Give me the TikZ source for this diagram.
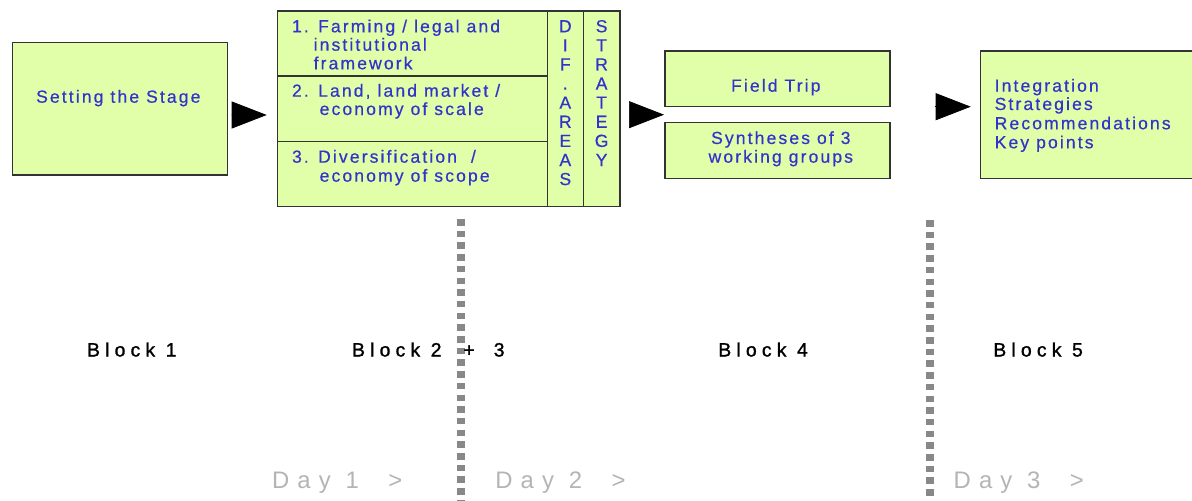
\documentclass[tikz,border=0pt]{standalone}
\usepackage{fontspec}
\setmainfont{Liberation Sans}
\newfontfamily\boxfont[LetterSpace=12, FakeBold=0.5]{Liberation Sans}
\newfontfamily\blockfont[LetterSpace=27, FakeBold=1.3]{Liberation Sans}
\newfontfamily\dayfont[LetterSpace=34]{Liberation Sans}
\usepackage{xcolor}
\usetikzlibrary{arrows.meta, positioning}

\definecolor{boxgreen}{RGB}{224,255,168}
\definecolor{boxblue}{RGB}{51,51,204}
\definecolor{daygray}{RGB}{180,180,180}
\definecolor{sepgray}{RGB}{136,136,136}

\begin{document}
\begin{tikzpicture}[
    x=0.02cm, y=-0.02cm,
    box/.style={rectangle, draw=black!80, line width=0.75pt, fill=boxgreen, inner sep=0pt, outer sep=0pt},
    txt/.style={inner sep=0pt, text=boxblue, font=\boxfont\fontsize{10}{12}\selectfont},
    blocklabel/.style={inner sep=0pt, anchor=base west, font=\blockfont\fontsize{11}{13}\selectfont},
    daylabel/.style={inner sep=0pt, anchor=base west, text=daygray, font=\dayfont\fontsize{13.6}{16}\selectfont},
    bigarrow/.style={-{Triangle[length=0.7cm, width=0.54cm]}, line width=0.4pt},
    daysep/.style={draw=sepgray, line width=4.55pt, dash pattern=on 3.7pt off 2.96pt}
]
\useasboundingbox (0,0) rectangle (1192,500);

% block 1
\node[box, minimum width=4.3cm, minimum height=2.646cm] (stage) at (119.8,108.9) {};
\node[txt, anchor=base] (stagetxt) at (118.3,102.7) {Setting the Stage};

% block 2 + 3: three topics, then the two side columns
\node[box, minimum width=5.4cm, minimum height=1.3cm, anchor=north west] (farming) at (277.3,11) {};
\node[box, minimum width=5.4cm, minimum height=1.314cm, below=0pt of farming] (landmkt) {};
\node[box, minimum width=5.4cm, minimum height=1.3cm, below=0pt of landmkt] (divers) {};
\node[box, minimum width=0.72cm, minimum height=3.914cm, anchor=north west] (areas) at (farming.north east) {};
\node[box, minimum width=0.734cm, minimum height=3.914cm, anchor=north west] (strategy) at (areas.north east) {};

\node[txt, anchor=base west] (farm1) at (291.7,32.3) {1. Farming / legal and};
\node[txt, anchor=base west] (farm2) at (313.3,50.7) {institutional};
\node[txt, anchor=base west] (farm3) at (313.3,69.3) {framework};
\node[txt, anchor=base west] (land1) at (291.7,96.7) {2. Land, land market /};
\node[txt, anchor=base west] (land2) at (319.3,115) {economy of scale};
\node[txt, anchor=base west] (div1) at (291.7,162.7) {3. Diversification \ /};
\node[txt, anchor=base west] (div2) at (319.3,181.7) {economy of scope};

% vertical words
\foreach \ch [count=\i] in {D,I,F,.,A,R,E,A,S}
  \node[txt, anchor=base] (dif\i) at (565.3,{32.3+19.1*(\i-1)}) {\ch};
\foreach \ch [count=\i] in {S,T,R,A,T,E,G,Y}
  \node[txt, anchor=base] (strat\i) at (601.6,{32.3+19.1*(\i-1)}) {\ch};

% block 4
\node[box, minimum width=4.5cm, minimum height=1.114cm] (field) at (777.5,78.85) {};
\node[box, minimum width=4.5cm, minimum height=1.112cm, below=0.32cm of field] (synth) {};
\node[txt, anchor=base] (fieldtxt) at (775.8,91.7) {Field Trip};
\node[txt, anchor=base] (synth1) at (780.8,144) {Syntheses of 3};
\node[txt, anchor=base] (synth2) at (780.8,162.7) {working groups};

% block 5
\node[box, minimum width=4.4cm, minimum height=2.546cm] (keybox) at (1090.7,114.65) {};
\foreach \yb/\txt [count=\i] in {91.7/Integration, 110/Strategies, 129.3/Recommendations, 148.3/Key points}
  \node[txt, anchor=base west] (key\i) at (994.3,\yb) {\txt};

% arrows between the blocks
\draw[bigarrow] ([shift={(4.4,6.1)}]stage.east) -- ([shift={(-10.6,6.15)}]landmkt.west);
\draw[bigarrow] ([shift={(9.3,5.85)}]strategy.east) -- ([shift={(-1,8)}]field.south west);
\draw[bigarrow] ([shift={(45,27.85)}]field.east) -- ([shift={(-10,-7.95)}]keybox.west);

% day separators
\coordinate (sepone-top) at (460.7,219);
\coordinate (sepone-bot) at (460.7,500);
\coordinate (septwo-top) at (930,220);
\coordinate (septwo-bot) at (930,500);
\draw[daysep] (sepone-top) -- (sepone-bot);
\draw[daysep] (septwo-top) -- (septwo-bot);

% block labels
\node[blocklabel] (blk1) at (86.7,356.5) {Block 1};
\node[blocklabel] (blk23) at (351.7,356.5) {Block 2\hspace{0.44cm}+\hspace{0.38cm}3};
\node[blocklabel] (blk4) at (718,356.5) {Block 4};
\node[blocklabel] (blk5) at (993,356.5) {Block 5};

% days
\node[daylabel] (day1) at (271.7,488.5) {Day 1\ \ >};
\node[daylabel] (day2) at (495,488.5) {Day 2\ \ >};
\node[daylabel] (day3) at (953.3,488.5) {Day 3\ \ >};

\end{tikzpicture}
\end{document}
